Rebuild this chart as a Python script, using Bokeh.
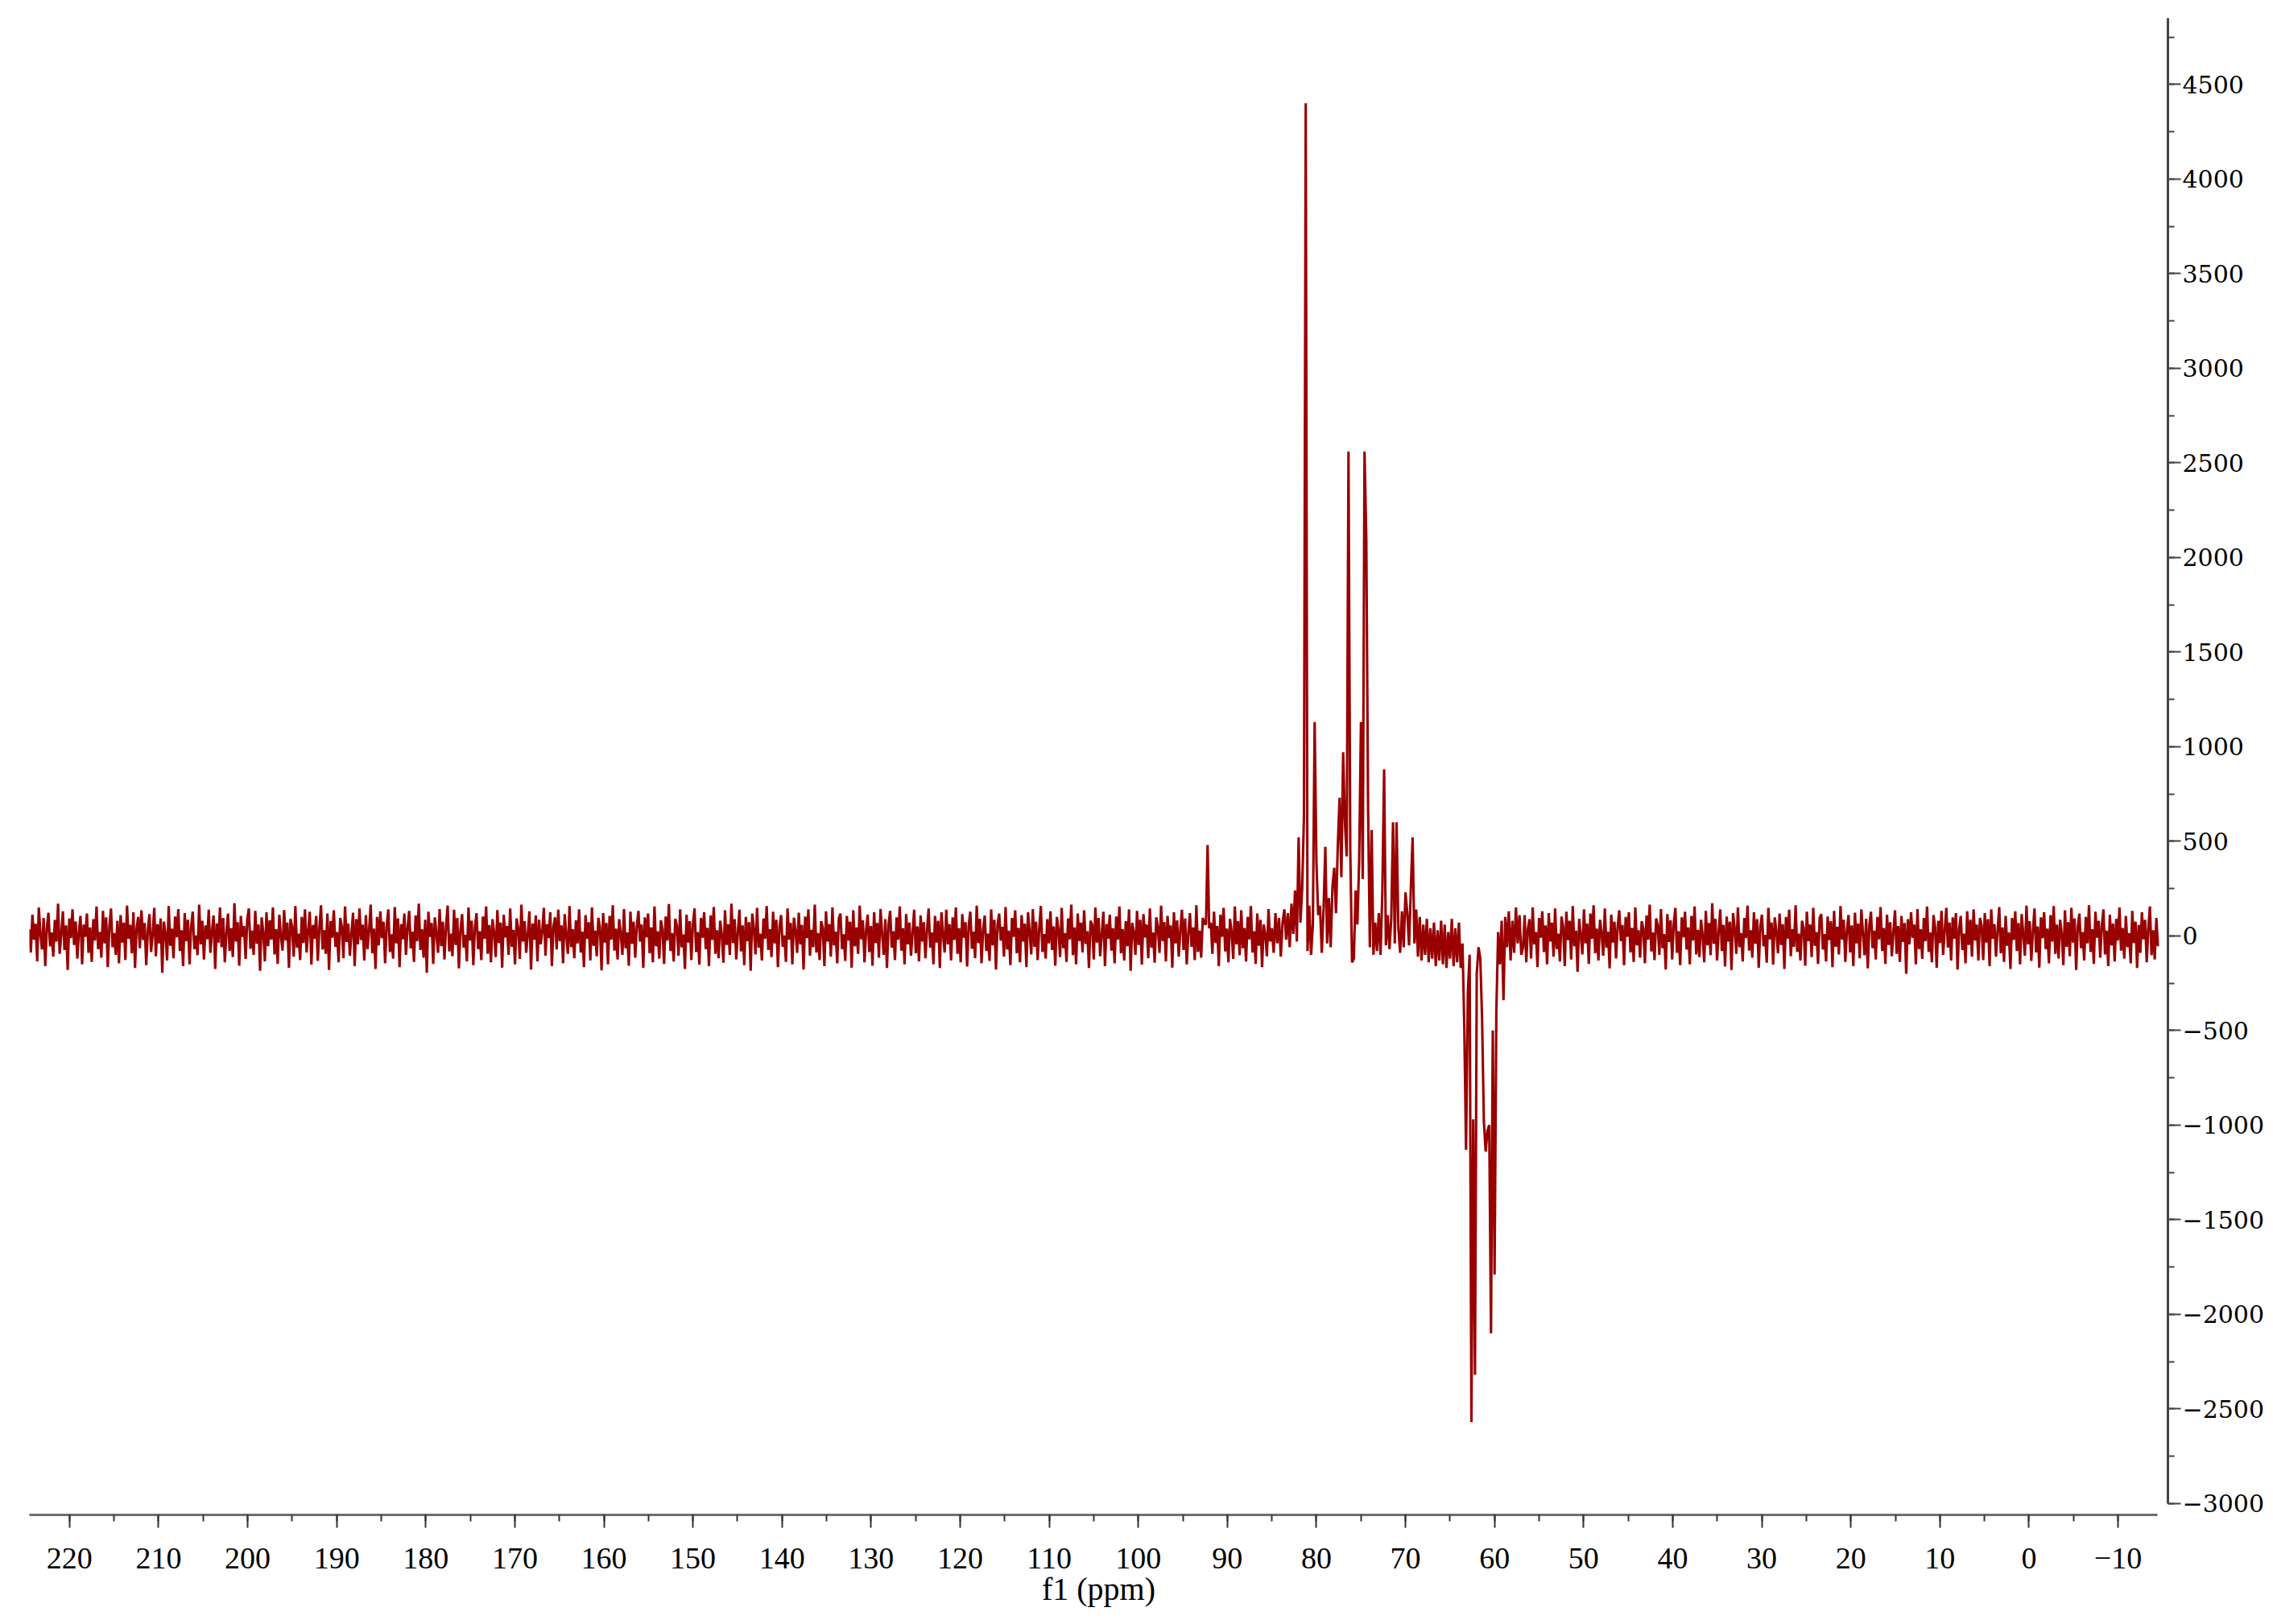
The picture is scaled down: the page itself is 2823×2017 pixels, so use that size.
import numpy as np
from bokeh.plotting import figure
from bokeh.models import Range1d, SingleIntervalTicker, ColumnDataSource
from bokeh.embed import file_html
from bokeh.resources import INLINE

# ---- data (intensity values) ----
# baseline noise, 224.5 ppm down to 85.2 ppm, 0.18 ppm spacing (includes the small 92.2 ppm signal)
noise_left = [
    35, -88, 112, -20, 64, -135, 150, 8, -72, 95, -160, 40, 122, -55, 18, -110, 84, -30, 170, -95,
    10, 130, -75, 55, -180, 92, -12, 140, -48, 76, -120, 25, 105, -150, 60, -5, 118, -90, 45, -138,
    88, -25, 155, -70, 20, -115, 132, -40, 98, -165, 50, 145, -60, 15, -100, 80, -145, 110, -35, 70,
    -128, 160, -15, 58, -92, 125, -170, 42, 100, -65, 135, -22, 68, -155, 28, 115, -85, 5, 148, -108,
    62, -40, 92, -195, 75, 12, -130, 158, -52, 38, -118, 102, -8, 142, -80, 30, -160, 120, -28, 85,
    -150, 48, 128, -70, 2, -102, 165, -45, 80, -125, 55, -18, 138, -90, 22, 108, -175, 66, -35, 150,
    -60, 95, -140, 15, 118, -80, 40, -112, 172, -30, 72, -158, 105, -5, 52, -122, 88, 145, -68, 28,
    -100, 132, -42, 60, -185, 98, 18, -135, 125, -55, 82, -20, 150, -98, 35, -148, 112, 0, -78, 136,
    -25, 70, -168, 90, 45, -110, 158, -62, 12, -128, 100, -38, 140, -88, 25, 128, -152, 58, -15, 105,
    -132, 42, 162, -72, 30, -95, 118, -180, 78, -10, 135, -58, 20, -140, 95, 48, -118, 155, -32, 65,
    -105, 15, 122, -160, 88, -45, 145, -22, 60, -130, 110, -70, 28, 165, -92, 38, -175, 100, -50, 130,
    -12, 75, -145, 55, 140, -85, 8, -120, 152, -40, 92, -165, 62, -18, 118, -100, 42, 132, -66, 22,
    -138, 108, -28, 170, -75, 35, -115, 85, -195, 128, -5, 68, -148, 98, 15, -90, 142, -55, 75, -125,
    50, 160, -82, 12, -108, 138, -48, 95, -172, 30, 115, -62, 5, -135, 150, -25, 80, -155, 45, 120,
    -70, 25, -128, 102, -15, 155, -95, 58, -140, 88, 18, -112, 136, -38, 70, -168, 112, -8, 52, -100,
    145, -58, 32, -150, 92, 40, -122, 165, -30, 78, -90, 10, 130, -178, 65, -20, 108, -135, 85, -45,
    20, 148, -105, 62, -12, 125, -160, 48, 98, -72, 138, -28, 55, -145, 115, 2, -95, 158, -60, 35,
    -118, 82, -40, 140, -88, 22, -165, 110, -15, 72, -130, 150, -52, 28, -108, 95, 45, -182, 120, -35,
    68, -150, 105, -20, 162, -78, 38, -125, 88, 10, -100, 142, -65, 18, -158, 128, -42, 75, -115, 52,
    132, -30, 60, -170, 98, -8, 118, -92, 45, -140, 155, -55, 25, -120, 82, 35, -148, 102, -25, 168,
    -80, 15, -135, 90, 50, -105, 140, -60, 8, -175, 112, -35, 78, -128, 65, 145, -85, 20, -152, 95,
    -10, 125, -70, 42, -160, 108, -22, 152, -95, 30, -118, 80, 5, -142, 135, -48, 62, -100, 170, -38,
    88, -125, 18, 138, -82, 55, -155, 100, -28, 72, -185, 118, 40, -98, 148, -62, 12, -130, 92, -15,
    158, -75, 35, -112, 128, -40, 85, -165, 48, 110, -58, 2, -138, 145, -20, 68, -150, 96, 28, -90,
    122, -45, 58, -178, 102, -12, 140, -105, 32, -60, 165, -88, 15, -128, 78, 40, -160, 130, -30, 62,
    -110, 150, -50, 22, -145, 92, 118, -70, 8, -132, 105, -25, 75, -168, 135, -55, 45, -95, 160, -18,
    82, -140, 28, 112, -85, 52, -158, 125, -38, 68, -115, 142, 10, -100, 88, -170, 58, 132, -62, 25,
    -128, 98, -20, 155, -78, 40, -150, 115, -45, 70, -105, 18, 138, -92, 50, -135, 108, -30,
    72, -118, 30, 145, -62, 18, -150, 105, -35, 80, -170, 125, 5, -88, 138, -45, 62, -130, 98, -22,
    150, -95, 40, -140, 115, -10, 72, -162, 55, 128, -68, 22, -118, 160, -38, 90, -145, 35, 108, -80,
    12, -132, 140, -50, 85, -178, 60, 118, -25, 48, -110, 152, -72, 28, -155, 95, -5, 135, -92, 42,
    -140, 110, -30, 65, -165, 125, 20, -98, 142, -58, 75, -128, 38, 158, -85, 10, -120, 88, -40, 130,
    -75, 50, -158, 100, 32, -112, 148, -65, 15, -138, 92, -18, 165, -102, 45, -150, 118, -28, 70, -88,
    135, -42, 25, -170, 80, 58, -125, 150, -35, 95, -108, 8, 128, -160, 62, -15, 112, -78, 40, -145,
    102, -20, 155, -92, 35, -130, 78, -55, 140, -185, 68, 22, -100, 132, -48, 85, -152, 115, -8, 60,
    -118, 145, -62, 18, -142, 98, 48, -90, 160, -28, 72, -135, 105, -12, 55, -168, 125, -40, 82, -110,
    30, 138, -75, 92, -150, 15, 120, -58, 45, -128, 162, -85, 28, -115, 95, 65, 60, 480, 40, 70,
    -95, 128, -38, 52, -160, 112, -5, 148, -82, 38, -140, 90, 20, -122, 155, -45, 78, -102, 135, -65,
    42, -135, 100, -18, 158, -88, 25, -148, 118, -52, 85, -165, 60, 10, -108, 142, -30,
]

# signal region, 85.0 ppm down to 57.0 ppm, 0.2 ppm spacing
peak_vals = [
    40, -90, 120, -40, 95, -110, 70, 140, -20, 120,
    -60, 170, 10, 240, -30, 520, 70, 250, 630, 4400,
    -80, 160, -100, 60, 1130, 390, 110, 160, -90, 140,
    470, -40, 200, -60, 260, 360, 120, 480, 730, 310,
    970, 600, 420, 2560, 450, -140, -120, 240, 60, 400,
    1130, 300, 2560, 2100, 670, -60, 560, -100, 70, -80,
    120, -100, 230, 880, -50, 110, -70, 90, 600, -40,
    600, 40, -90, 130, -60, 230, 120, -50, 250, 520,
    -40, 140, -110, 100, -130, 60, -100, 90, -140, 40,
    -120, 70, -160, 30, -130, 80, -150, 60, -170, 20,
    -120, 90, -160, 40, -140, 70, -170, -40, -480, -1130,
    -300, -100, -2570, -970, -2320, -200, -60, -120, -440, -980,
    -1140, -1030, -1000, -2100, -500, -1790, -400, 20, -150, 80,
    -340, 100, -60, 130, -130, 80, -90, 150, -40, 110,
    -100,
]

# baseline noise, 56.8 ppm down to -14.5 ppm, 0.18 ppm spacing
noise_right = [
    -60, 110, -140, 35, 88, -120, 150, -45, 20, -165, 95, -10, 130, -85, 55, -150, 120, -30, 70, -110,
    145, -70, 12, -135, 102, 48, -160, 128, -22, 80, -125, 158, -55, 28, -190, 90, 5, -98, 140, -40,
    65, -148, 118, -15, 162, -92, 38, -130, 85, 15, -105, 145, -62, 22, -172, 112, -35, 75, -120, 50,
    135, -28, 58, -155, 100, -5, 125, -88, 42, -138, 150, -50, 30, -115, 78, 40, -145, 108, -20, 165,
    -82, 18, -128, 92, 55, -100, 142, -65, 10, -178, 115, -32, 82, -125, 62, 148, -90, 25, -155, 98,
    -8, 128, -72, 45, -150, 105, -25, 155, -98, 32, -112, 85, 2, -140, 132, -50, 68, -102, 172, -42,
    90, -130, 20, 140, -80, 58, -162, 102, -30, 75, -180, 120, 38, -95, 150, -60, 15, -135, 95, -12,
    160, -78, 30, -115, 125, -42, 88, -168, 50, 112, -55, 5, -142, 148, -18, 70, -152, 98, 25, -92,
    118, -48, 62, -175, 100, -15, 138, -108, 35, -58, 162, -85, 12, -130, 80, 42, -158, 128, -28, 60,
    -112, 148, -52, 20, -148, 95, 115, -72, 10, -135, 102, -22, 78, -165, 132, -58, 48, -98, 158, -20,
    85, -138, 30, 110, -88, 55, -160, 122, -40, 65, -118, 140, 12, -102, 90, -172, 55, 128, -65, 28,
    -125, 100, -18, 152, -80, 42, -148, 112, -48, 72, -108, 20, 135, -95, 52, -138, 105, -32, 68, -200,
    88, -45, 125, -10, 60, -150, 142, -70, 35, -122, 95, -28, 155, -85, 18, -140, 110, 45, -168, 80,
    -38, 132, -100, 25, 148, -62, 70, -130, 98, -15, 120, -178, 40, 105, -75, 12, -145, 130, -48, 85,
    -110, 140, -25, 60, -130, 95,
    55, -128, 120, -35, 88, -160, 140, -15, 62, -110, 30, 152, -92, 45, -138, 105, -52, 18, -175, 95,
    -22, 130, -80, 68, -150, 115, 8, -105, 160, -45, 78, -132, 25, 145, -88, 50, -168, 98, -12, 125,
    -70, 38, -145, 110, -30, 158, -95, 60, -120, 85, 12, -155, 135, -58, 72, -108, 148, -35, 92, -180,
    48, 118, -65, 20, -130, 100, -40, 162, -85, 35, -148, 128, -10, 80, -115, 55, 140, -98, 28, -160,
    112, -50, 65, -135, 90, -25, 150, -78, 42, -120, 105, -60, 15, -145, 132, -38, 75, -170, 58, -90,
    125, -18, 85, -140, 40, 155, -102, 30, -125, 95, -55,
]

x_ticks_interval = 10
y_ticks_interval = 500

# ---- ppm axis for each segment ----
step = 0.18
x_left = 85.2 + step * np.arange(len(noise_left))[::-1]
x_peak = 85.0 - 0.2 * np.arange(len(peak_vals))
x_right = 56.8 - step * np.arange(len(noise_right))

ppm = np.concatenate([x_left, x_peak, x_right])
intensity = np.concatenate([noise_left, peak_vals, noise_right]).astype(float)
src = ColumnDataSource(dict(ppm=ppm, intensity=intensity))

p = figure(
    frame_width=2656, frame_height=1859,
    x_range=Range1d(224.5, -15.6), y_range=Range1d(-3060, 4850),
    output_backend="svg", toolbar_location=None,
    y_axis_location="right",
    min_border_left=36, min_border_top=22, min_border_right=115, min_border_bottom=118,
)
p.outline_line_color = None
p.xgrid.visible = False
p.ygrid.visible = False
p.background_fill_color = "white"
p.border_fill_color = "white"

p.line("ppm", "intensity", source=src, line_color="#990000", line_width=3.1)

xa = p.xaxis[0]
xa.ticker = SingleIntervalTicker(interval=x_ticks_interval, num_minor_ticks=2)
xa.bounds = (-14.4, 224.5)
xa.axis_line_color = "#6e6e6e"
xa.axis_line_width = 3
xa.major_tick_line_color = "#333333"
xa.major_tick_line_width = 2
xa.major_tick_in = 0
xa.major_tick_out = 16
xa.minor_tick_line_color = "#333333"
xa.minor_tick_line_width = 2
xa.minor_tick_in = 0
xa.minor_tick_out = 8
xa.major_label_text_font = "Liberation Serif"
xa.major_label_text_font_size = "38px"
xa.major_label_text_color = "black"
xa.major_label_standoff = 25
xa.axis_label = "f1 (ppm)"
xa.axis_label_text_font = "Liberation Serif"
xa.axis_label_text_font_size = "40px"
xa.axis_label_text_font_style = "normal"
xa.axis_label_text_color = "black"
xa.axis_label_standoff = 0

ya = p.yaxis[0]
ya.ticker = SingleIntervalTicker(interval=y_ticks_interval, num_minor_ticks=2)
ya.bounds = (-3000, 4850)
ya.axis_line_color = "#444444"
ya.axis_line_width = 3
ya.major_tick_line_color = "#444444"
ya.major_tick_line_width = 2
ya.major_tick_in = 0
ya.major_tick_out = 16
ya.minor_tick_line_color = "#444444"
ya.minor_tick_line_width = 2
ya.minor_tick_in = 0
ya.minor_tick_out = 8
ya.major_label_text_font = "DejaVu Serif"
ya.major_label_text_font_size = "30px"
ya.major_label_text_color = "black"
ya.major_label_standoff = 2

open("out.html", "w").write(file_html(p, INLINE))
